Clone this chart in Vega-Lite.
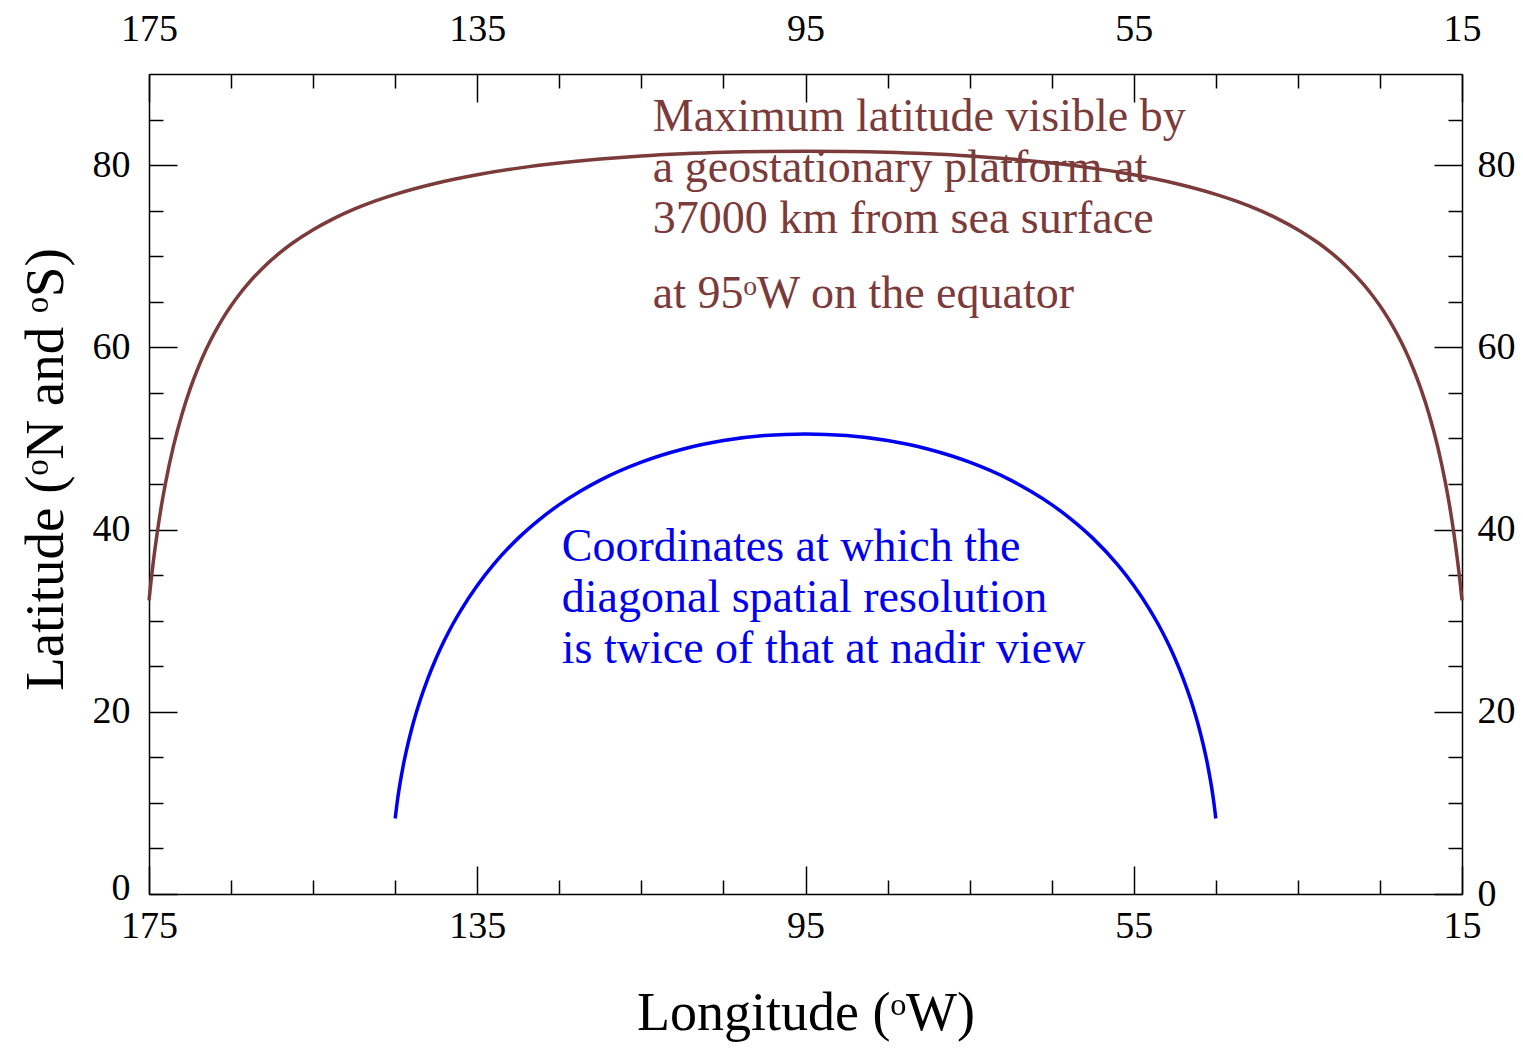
{
  "$schema": "https://vega.github.io/schema/vega-lite/v6.json",
  "width": 1313,
  "height": 820,
  "autosize": {"type": "none"},
  "padding": {"left": 149, "top": 74, "right": 61, "bottom": 158},
  "background": "white",
  "config": {
    "view": {"stroke": null},
    "font": "Liberation Serif",
    "axis": {
      "labelFont": "Liberation Serif",
      "labelFontSize": 38,
      "labelColor": "black",
      "domainColor": "black",
      "domainWidth": 1.5,
      "tickColor": "black",
      "tickWidth": 1.5,
      "grid": false,
      "titleFont": "Liberation Serif",
      "titleFontWeight": "normal",
      "titleColor": "black",
      "labelFlush": false,
      "labelOverlap": false
    }
  },
  "datasets": {
    "curves": [
      {"series": "visible", "lon": 175, "lat": 32.23},
      {"series": "visible", "lon": 174.75, "lat": 34.36},
      {"series": "visible", "lon": 174.5, "lat": 36.28},
      {"series": "visible", "lon": 174.25, "lat": 38.04},
      {"series": "visible", "lon": 174, "lat": 39.66},
      {"series": "visible", "lon": 173.5, "lat": 42.54},
      {"series": "visible", "lon": 173, "lat": 45.04},
      {"series": "visible", "lon": 172, "lat": 49.23},
      {"series": "visible", "lon": 171, "lat": 52.61},
      {"series": "visible", "lon": 170, "lat": 55.42},
      {"series": "visible", "lon": 169, "lat": 57.79},
      {"series": "visible", "lon": 168, "lat": 59.84},
      {"series": "visible", "lon": 167, "lat": 61.61},
      {"series": "visible", "lon": 166, "lat": 63.18},
      {"series": "visible", "lon": 165, "lat": 64.56},
      {"series": "visible", "lon": 164, "lat": 65.8},
      {"series": "visible", "lon": 163, "lat": 66.91},
      {"series": "visible", "lon": 161, "lat": 68.83},
      {"series": "visible", "lon": 159, "lat": 70.42},
      {"series": "visible", "lon": 157.5, "lat": 71.45},
      {"series": "visible", "lon": 155, "lat": 72.91},
      {"series": "visible", "lon": 152.5, "lat": 74.13},
      {"series": "visible", "lon": 150, "lat": 75.16},
      {"series": "visible", "lon": 147.5, "lat": 76.04},
      {"series": "visible", "lon": 145, "lat": 76.79},
      {"series": "visible", "lon": 140, "lat": 78.01},
      {"series": "visible", "lon": 135, "lat": 78.94},
      {"series": "visible", "lon": 130, "lat": 79.67},
      {"series": "visible", "lon": 125, "lat": 80.23},
      {"series": "visible", "lon": 120, "lat": 80.67},
      {"series": "visible", "lon": 115, "lat": 81.01},
      {"series": "visible", "lon": 110, "lat": 81.25},
      {"series": "visible", "lon": 105, "lat": 81.42},
      {"series": "visible", "lon": 100, "lat": 81.5},
      {"series": "visible", "lon": 95, "lat": 81.52},
      {"series": "visible", "lon": 90, "lat": 81.5},
      {"series": "visible", "lon": 85, "lat": 81.42},
      {"series": "visible", "lon": 80, "lat": 81.25},
      {"series": "visible", "lon": 75, "lat": 81.01},
      {"series": "visible", "lon": 70, "lat": 80.67},
      {"series": "visible", "lon": 65, "lat": 80.23},
      {"series": "visible", "lon": 60, "lat": 79.67},
      {"series": "visible", "lon": 55, "lat": 78.94},
      {"series": "visible", "lon": 50, "lat": 78.01},
      {"series": "visible", "lon": 45, "lat": 76.79},
      {"series": "visible", "lon": 42.5, "lat": 76.04},
      {"series": "visible", "lon": 40, "lat": 75.16},
      {"series": "visible", "lon": 37.5, "lat": 74.13},
      {"series": "visible", "lon": 35, "lat": 72.91},
      {"series": "visible", "lon": 32.5, "lat": 71.45},
      {"series": "visible", "lon": 31, "lat": 70.42},
      {"series": "visible", "lon": 29, "lat": 68.83},
      {"series": "visible", "lon": 27, "lat": 66.91},
      {"series": "visible", "lon": 26, "lat": 65.8},
      {"series": "visible", "lon": 25, "lat": 64.56},
      {"series": "visible", "lon": 24, "lat": 63.18},
      {"series": "visible", "lon": 23, "lat": 61.61},
      {"series": "visible", "lon": 22, "lat": 59.84},
      {"series": "visible", "lon": 21, "lat": 57.79},
      {"series": "visible", "lon": 20, "lat": 55.42},
      {"series": "visible", "lon": 19, "lat": 52.61},
      {"series": "visible", "lon": 18, "lat": 49.23},
      {"series": "visible", "lon": 17, "lat": 45.04},
      {"series": "visible", "lon": 16.5, "lat": 42.54},
      {"series": "visible", "lon": 16, "lat": 39.66},
      {"series": "visible", "lon": 15.75, "lat": 38.04},
      {"series": "visible", "lon": 15.5, "lat": 36.28},
      {"series": "visible", "lon": 15.25, "lat": 34.36},
      {"series": "visible", "lon": 15, "lat": 32.23},
      {"series": "resolution", "lon": 145, "lat": 8.28},
      {"series": "resolution", "lon": 144.75, "lat": 10.11},
      {"series": "resolution", "lon": 144.5, "lat": 11.65},
      {"series": "resolution", "lon": 144.25, "lat": 12.97},
      {"series": "resolution", "lon": 144, "lat": 14.18},
      {"series": "resolution", "lon": 143.5, "lat": 16.27},
      {"series": "resolution", "lon": 143, "lat": 18.09},
      {"series": "resolution", "lon": 142.5, "lat": 19.69},
      {"series": "resolution", "lon": 142, "lat": 21.15},
      {"series": "resolution", "lon": 141, "lat": 23.7},
      {"series": "resolution", "lon": 140, "lat": 25.9},
      {"series": "resolution", "lon": 139, "lat": 27.84},
      {"series": "resolution", "lon": 138, "lat": 29.58},
      {"series": "resolution", "lon": 137, "lat": 31.14},
      {"series": "resolution", "lon": 135, "lat": 33.87},
      {"series": "resolution", "lon": 133, "lat": 36.18},
      {"series": "resolution", "lon": 130, "lat": 39.06},
      {"series": "resolution", "lon": 127.5, "lat": 41.04},
      {"series": "resolution", "lon": 125, "lat": 42.74},
      {"series": "resolution", "lon": 122.5, "lat": 44.18},
      {"series": "resolution", "lon": 120, "lat": 45.43},
      {"series": "resolution", "lon": 115, "lat": 47.4},
      {"series": "resolution", "lon": 110, "lat": 48.82},
      {"series": "resolution", "lon": 105, "lat": 49.77},
      {"series": "resolution", "lon": 100, "lat": 50.32},
      {"series": "resolution", "lon": 95, "lat": 50.5},
      {"series": "resolution", "lon": 90, "lat": 50.32},
      {"series": "resolution", "lon": 85, "lat": 49.77},
      {"series": "resolution", "lon": 80, "lat": 48.82},
      {"series": "resolution", "lon": 75, "lat": 47.4},
      {"series": "resolution", "lon": 70, "lat": 45.43},
      {"series": "resolution", "lon": 67.5, "lat": 44.18},
      {"series": "resolution", "lon": 65, "lat": 42.74},
      {"series": "resolution", "lon": 62.5, "lat": 41.04},
      {"series": "resolution", "lon": 60, "lat": 39.06},
      {"series": "resolution", "lon": 57, "lat": 36.18},
      {"series": "resolution", "lon": 55, "lat": 33.87},
      {"series": "resolution", "lon": 53, "lat": 31.14},
      {"series": "resolution", "lon": 52, "lat": 29.58},
      {"series": "resolution", "lon": 51, "lat": 27.84},
      {"series": "resolution", "lon": 50, "lat": 25.9},
      {"series": "resolution", "lon": 49, "lat": 23.7},
      {"series": "resolution", "lon": 48, "lat": 21.15},
      {"series": "resolution", "lon": 47.5, "lat": 19.69},
      {"series": "resolution", "lon": 47, "lat": 18.09},
      {"series": "resolution", "lon": 46.5, "lat": 16.27},
      {"series": "resolution", "lon": 46, "lat": 14.18},
      {"series": "resolution", "lon": 45.75, "lat": 12.97},
      {"series": "resolution", "lon": 45.5, "lat": 11.65},
      {"series": "resolution", "lon": 45.25, "lat": 10.11},
      {"series": "resolution", "lon": 45, "lat": 8.28}
    ],
    "notes": [
      {"series": "visible", "lon": 113.6, "lat": 83.7, "label": "Maximum latitude visible by\na geostationary platform at\n37000 km from sea surface"},
      {"series": "visible", "lon": 113.6, "lat": 64.3, "label": "at 95ᵒW on the equator"},
      {"series": "resolution", "lon": 124.7, "lat": 36.6, "label": "Coordinates at which the\ndiagonal spatial resolution\nis twice of that at nadir view"}
    ]
  },
  "layer": [
    {
      "data": {"name": "curves"},
      "mark": {"type": "line", "strokeWidth": 3.5, "interpolate": "monotone"},
      "encoding": {
        "x": {
          "field": "lon", "type": "quantitative",
          "scale": {"domain": [15, 175], "reverse": true, "nice": false, "zero": false},
          "axis": {
            "orient": "bottom",
            "values": [175, 165, 155, 145, 135, 125, 115, 105, 95, 85, 75, 65, 55, 45, 35, 25, 15],
            "labelExpr": "(175 - datum.value) % 40 == 0 ? datum.label : ''",
            "tickSize": {"condition": {"test": "(175 - datum.value) % 40 == 0", "value": -28}, "value": -14},
            "labelPadding": 41,
            "title": "Longitude (ᵒW)",
            "titleFontSize": 54,
            "titlePadding": 27
          }
        },
        "y": {
          "field": "lat", "type": "quantitative",
          "scale": {"domain": [0, 90], "nice": false, "zero": false},
          "axis": {
            "orient": "left",
            "values": [0, 5, 10, 15, 20, 25, 30, 35, 40, 45, 50, 55, 60, 65, 70, 75, 80, 85],
            "labelExpr": "datum.value % 20 == 0 ? datum.label : ''",
            "tickSize": {"condition": {"test": "datum.value % 20 == 0", "value": -28}, "value": -14},
            "labelOffset": {"condition": {"test": "datum.value == 0", "value": -6}, "value": 0},
            "labelPadding": 47,
            "title": "Latitude (ᵒN and ᵒS)",
            "titleFontSize": 55,
            "titlePadding": 18,
            "titleY": 395
          }
        },
        "color": {
          "field": "series", "type": "nominal",
          "scale": {"domain": ["visible", "resolution"], "range": ["#7b3b3b", "#0000f0"]},
          "legend": null
        }
      }
    },
    {
      "data": {"name": "notes"},
      "mark": {"type": "text", "align": "left", "baseline": "alphabetic", "fontSize": 46, "lineBreak": "\n", "lineHeight": 51, "font": "Liberation Serif"},
      "encoding": {
        "x": {
          "field": "lon", "type": "quantitative",
          "scale": {"domain": [15, 175], "reverse": true, "nice": false, "zero": false},
          "axis": {
            "orient": "top",
            "values": [175, 165, 155, 145, 135, 125, 115, 105, 95, 85, 75, 65, 55, 45, 35, 25, 15],
            "labelExpr": "(175 - datum.value) % 40 == 0 ? datum.label : ''",
            "tickSize": {"condition": {"test": "(175 - datum.value) % 40 == 0", "value": -28}, "value": -14},
            "labelPadding": 54,
            "title": null
          }
        },
        "y": {
          "field": "lat", "type": "quantitative",
          "scale": {"domain": [0, 90], "nice": false, "zero": false},
          "axis": {
            "orient": "right",
            "values": [0, 5, 10, 15, 20, 25, 30, 35, 40, 45, 50, 55, 60, 65, 70, 75, 80, 85],
            "labelExpr": "datum.value % 20 == 0 ? datum.label : ''",
            "tickSize": {"condition": {"test": "datum.value % 20 == 0", "value": -28}, "value": -14},
            "labelPadding": 43,
            "title": null
          }
        },
        "text": {"field": "label"},
        "color": {
          "field": "series", "type": "nominal",
          "scale": {"domain": ["visible", "resolution"], "range": ["#7b3b3b", "#0000f0"]},
          "legend": null
        }
      }
    }
  ],
  "resolve": {"axis": {"x": "independent", "y": "independent"}}
}
